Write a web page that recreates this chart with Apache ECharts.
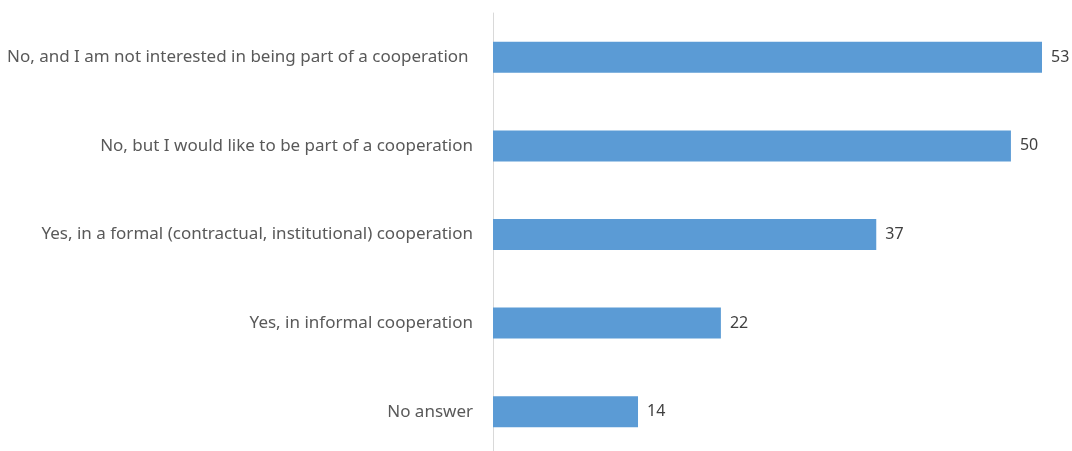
<!DOCTYPE html>
<html>
<head>
<meta charset="utf-8">
<script src="https://cdn.jsdelivr.net/npm/echarts@6/dist/echarts.min.js"></script>
<style>
  html, body { margin: 0; padding: 0; background: #ffffff; overflow: hidden; width: 1072px; height: 451px; }
  /* the canvas runs a few pixels past the bottom edge so the axis line reaches it */
  #chart { width: 1072px; height: 460px; }
</style>
</head>
<body>
<div id="chart"></div>
<script>
// Answer categories, listed bottom to top as drawn on the category axis
const categories = [
  'No answer',
  'Yes, in informal cooperation',
  'Yes, in a formal (contractual, institutional) cooperation',
  'No, but I would like to be part of a cooperation',
  'No, and I am not interested in being part of a cooperation '
];
// Number of responses per category
const responses = [14, 22, 37, 50, 53];

const chart = echarts.init(document.getElementById('chart'), null, { renderer: 'canvas' });

chart.setOption({
  animation: false,
  backgroundColor: '#ffffff',
  grid: { left: 493, top: 13, width: 549, height: 443, containLabel: false },
  xAxis: {
    type: 'value',
    min: 0,
    max: 53,
    show: false
  },
  yAxis: {
    type: 'category',
    data: categories,
    axisLine: { show: true, lineStyle: { color: '#d9d9d9', width: 1 } },
    axisTick: { show: false },
    splitLine: { show: false },
    axisLabel: {
      color: '#595959',
      fontFamily: 'Noto Sans',
      fontSize: 17,
      margin: 20
    }
  },
  series: [{
    type: 'bar',
    data: responses,
    barWidth: 31,
    itemStyle: { color: '#5b9bd5' },
    label: {
      show: true,
      position: 'right',
      distance: 9,
      color: '#404040',
      fontFamily: 'Noto Sans',
      fontSize: 16
    }
  }]
});
</script>
</body>
</html>
